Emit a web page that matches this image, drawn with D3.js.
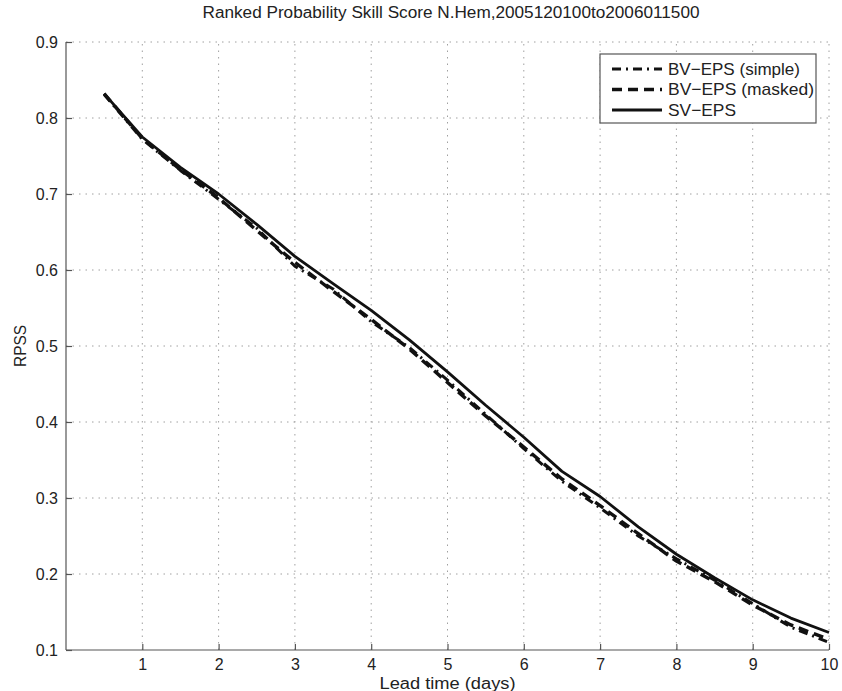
<!DOCTYPE html>
<html>
<head>
<meta charset="utf-8">
<script src="https://cdn.jsdelivr.net/npm/d3@7"></script>
<style>
  body { margin: 0; background: #fff; }
  svg text { font-family: "Liberation Sans", Arial, sans-serif; fill: #222; }
</style>
</head>
<body>
<div id="chart"></div>
<script>
// lead times (days) and RPSS for the three ensembles
const leadDays = [0.5, 1, 1.5, 2, 2.5, 3, 3.5, 4, 4.5, 5, 5.5, 6, 6.5, 7, 7.5, 8, 8.5, 9, 9.5, 10]
const bvSimple = [0.831, 0.772, 0.731, 0.693, 0.655, 0.605, 0.575, 0.532, 0.498, 0.455,
                  0.410, 0.365, 0.322, 0.287, 0.250, 0.220, 0.192, 0.161, 0.130, 0.110]
const bvMasked = [0.832, 0.773, 0.732, 0.695, 0.652, 0.610, 0.572, 0.535, 0.496, 0.452,
                  0.408, 0.367, 0.325, 0.290, 0.253, 0.217, 0.190, 0.159, 0.133, 0.114]
const svEps    = [0.832, 0.775, 0.735, 0.700, 0.660, 0.618, 0.582, 0.547, 0.508, 0.466,
                  0.422, 0.380, 0.335, 0.302, 0.262, 0.226, 0.195, 0.166, 0.142, 0.123]
const seriesNames = ["BV\u2212EPS (simple)", "BV\u2212EPS (masked)", "SV\u2212EPS"]
const xTicks = [1, 2, 3, 4, 5, 6, 7, 8, 9, 10]
const yTicks = [0.1, 0.2, 0.3, 0.4, 0.5, 0.6, 0.7, 0.8, 0.9]

width = 842
height = 691
margin = {left: 66, right: 13, top: 42, bottom: 41}

x = d3.scaleLinear().domain([0, 10]).range([margin.left, width - margin.right])
y = d3.scaleLinear().domain([0.1, 0.9]).range([height - margin.bottom, margin.top])

svg = d3.select("#chart").append("svg")
  .attr("width", width)
  .attr("height", height)

// dotted grid
grid = svg.append("g")
grid.selectAll(".vgrid")
  .data(xTicks).enter()
  .append("line")
  .attr("x1", d => x(d)).attr("x2", d => x(d))
  .attr("y1", y(0.1)).attr("y2", y(0.9))
grid.selectAll(".hgrid")
  .data(yTicks.slice(1)).enter()
  .append("line")
  .attr("x1", x(0)).attr("x2", x(10))
  .attr("y1", d => y(d)).attr("y2", d => y(d))
grid.selectAll("line")
  .attr("stroke", "#a0a0a0")
  .attr("stroke-width", 1)
  .attr("stroke-dasharray", "1.5,5")

// axes, ticks pointing into the plot
xAxis = d3.axisTop(x).tickValues(xTicks).tickSize(6).tickFormat("")
gx = svg.append("g")
  .attr("transform", "translate(0," + y(0.1) + ")")
  .call(xAxis)
gx.select(".domain").attr("d", "M" + x(0) + ",0H" + x(10))
gx.selectAll(".tick")
  .append("text")
  .attr("y", 20)
  .attr("text-anchor", "middle")
  .attr("fill", "#222")
  .style("font-size", "16px")
  .text(d => d)

yAxis = d3.axisRight(y).tickValues(yTicks).tickSize(6).tickFormat("")
gy = svg.append("g")
  .attr("transform", "translate(" + x(0) + ",0)")
  .call(yAxis)
gy.select(".domain").attr("d", "M0," + y(0.1) + "V" + y(0.9))
gy.selectAll(".tick")
  .append("text")
  .attr("x", -8)
  .attr("dy", "0.35em")
  .attr("text-anchor", "end")
  .attr("fill", "#222")
  .style("font-size", "16px")
  .text(d => d3.format(".1f")(d))

svg.selectAll(".domain, .tick line")
  .attr("stroke", "#555")
  .attr("stroke-width", 1.2)

// curves
line = d3.line()
  .x((d, i) => x(leadDays[i]))
  .y(d => y(d))

styles = [
  {data: bvSimple, dash: "9,5,2,5", width: 3},
  {data: bvMasked, dash: "10,6", width: 3.4},
  {data: svEps, dash: null, width: 2.8}
]

svg.append("g").selectAll("path")
  .data(styles).enter()
  .append("path")
  .attr("d", d => line(d.data))
  .attr("fill", "none")
  .attr("stroke", "#111")
  .attr("stroke-width", d => d.width)
  .attr("stroke-dasharray", d => d.dash)
  .attr("stroke-linejoin", "round")

// legend
legend = svg.append("g")
legend.append("rect")
  .attr("x", 600).attr("y", 54)
  .attr("width", 216).attr("height", 69)
  .attr("fill", "#fff")
  .attr("stroke", "#555")
  .attr("stroke-width", 1.2)

rows = legend.selectAll(".row")
  .data(styles).enter()
  .append("g")
  .attr("transform", (d, i) => "translate(0," + (69 + i * 20.5) + ")")
rows.append("line")
  .attr("x1", 612).attr("x2", 662)
  .attr("stroke", "#111")
  .attr("stroke-width", d => d.width)
  .attr("stroke-dasharray", d => d.dash)
rows.append("text")
  .attr("x", 668)
  .attr("dy", "0.35em")
  .style("font-size", "17px")
  .attr("textLength", (d, i) => [132, 146, 68][i])
  .attr("lengthAdjust", "spacingAndGlyphs")
  .text((d, i) => seriesNames[i])

// titles
svg.append("text")
  .attr("x", 451).attr("y", 18)
  .attr("text-anchor", "middle")
  .style("font-size", "16px")
  .attr("textLength", 497)
  .attr("lengthAdjust", "spacingAndGlyphs")
  .text("Ranked Probability Skill Score N.Hem,2005120100to2006011500")

svg.append("text")
  .attr("x", x(5)).attr("y", 689)
  .attr("text-anchor", "middle")
  .style("font-size", "16px")
  .attr("textLength", 136)
  .attr("lengthAdjust", "spacingAndGlyphs")
  .text("Lead time (days)")

svg.append("text")
  .attr("transform", "translate(26," + y(0.5) + ") rotate(-90)")
  .attr("text-anchor", "middle")
  .style("font-size", "16px")
  .attr("textLength", 42)
  .attr("lengthAdjust", "spacingAndGlyphs")
  .text("RPSS")
</script>
</body>
</html>
